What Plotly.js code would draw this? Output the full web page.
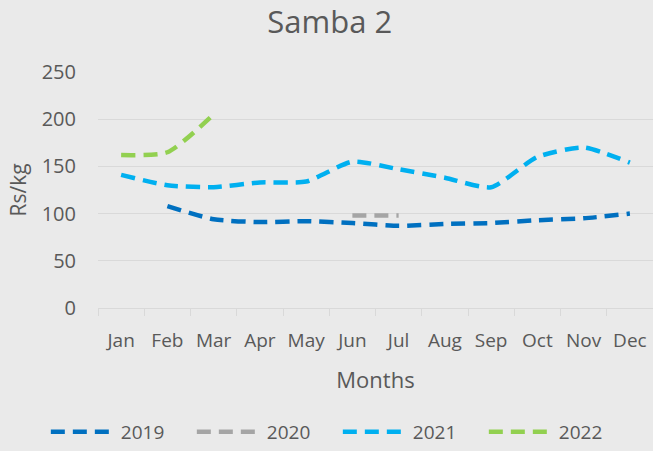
<!DOCTYPE html>
<html>
<head>
<meta charset="utf-8">
<script src="https://cdn.plot.ly/plotly-3.0.1.min.js"></script>
<style>html,body{margin:0;padding:0;background:#EAEAEA;}#chart{width:653px;height:451px;}</style>
</head>
<body>
<div id="chart"></div>
<script>
const months = ["Jan","Feb","Mar","Apr","May","Jun","Jul","Aug","Sep","Oct","Nov","Dec"];
const v2019 = [null,108,94,91,92,90,87,89,90,93,95,100];
const v2020 = [null,null,null,null,null,98,98,null,null,null,null,null];
const v2021 = [141,130,128,133,134,155,147,138,128,160,170,154];
const v2022 = [162,165,205,null,null,null,null,null,null,null,null,null];
const seriesNames = ["2019","2020","2021","2022"];
const seriesColors = ["#0070C0","#A5A5A5","#00B0F0","#92D050"];
const seriesValues = [v2019, v2020, v2021, v2022];

const traces = seriesValues.map((vals, i) => ({
  type: "scatter",
  mode: "lines",
  name: seriesNames[i],
  x: months,
  y: vals,
  connectgaps: false,
  line: {color: seriesColors[i], width: 4.5, dash: "14px,8px", shape: "spline", smoothing: 0.6}
}));

const font = "'Open Sans', sans-serif";
const txt = "#595959";
const layout = {
  width: 653, height: 451,
  paper_bgcolor: "#EAEAEA", plot_bgcolor: "#EAEAEA",
  margin: {l: 98, r: 0, t: 72, b: 142},
  font: {family: font, color: txt, size: 19},
  title: {text: "Samba 2", x: 0.505, xref: "container", xanchor: "center",
          y: 0.951, yref: "container", yanchor: "middle",
          font: {size: 31, color: txt, family: font}},
  showlegend: true,
  legend: {orientation: "h", xref: "paper", x: -0.094, xanchor: "left",
           yref: "paper", y: -0.523, yanchor: "middle",
           itemwidth: 65, entrywidth: 66, font: {size: 19, color: txt}, bgcolor: "rgba(0,0,0,0)"},
  xaxis: {
    type: "category", range: [-0.5, 11.5],
    showgrid: false, showline: true, linecolor: "#D9D9D9", linewidth: 1,
    ticks: "outside", tickson: "boundaries", ticklen: 7, tickcolor: "#D9D9D9",
    tickangle: 0,
    tickfont: {size: 19, color: txt}, ticklabelstandoff: 15,
    title: {text: "Months", font: {size: 22, color: txt}, standoff: 20},
    fixedrange: true, zeroline: false
  },
  yaxis: {
    range: [0, 250], dtick: 50, tick0: 0,
    showgrid: true, gridcolor: "#D9D9D9", gridwidth: 1,
    zeroline: false, showline: false, ticks: "",
    tickfont: {size: 20, color: txt}, ticklabelstandoff: 21,
    title: {text: "Rs/kg", font: {size: 21, color: txt}, standoff: 9},
    fixedrange: true
  }
};
Plotly.newPlot("chart", traces, layout, {staticPlot: true, displayModeBar: false});
</script>
</body>
</html>
